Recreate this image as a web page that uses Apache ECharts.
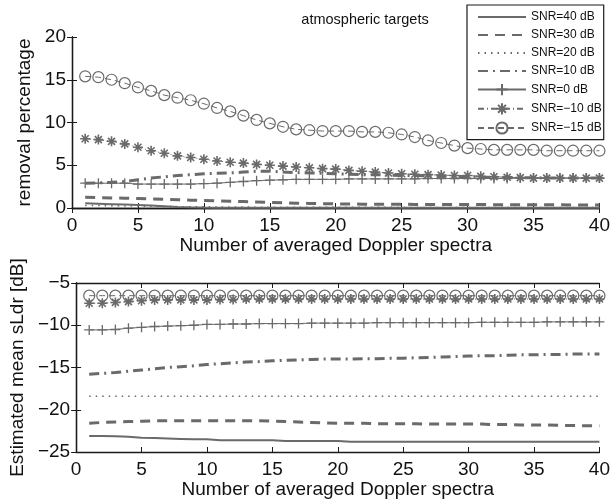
<!DOCTYPE html>
<html>
<head>
<meta charset="utf-8">
<script src="https://cdn.jsdelivr.net/npm/echarts@6/dist/echarts.min.js"></script>
<style>html,body{margin:0;padding:0;background:#fff}#c{width:613px;height:504px}</style>
</head>
<body>
<div id="c"></div>
<script>
var xs = [1,2,3,4,5,6,7,8,9,10,11,12,13,14,15,16,17,18,19,20,21,22,23,24,25,26,27,28,29,30,31,32,33,34,35,36,37,38,39,40];
var names = ['SNR=40 dB','SNR=30 dB','SNR=20 dB','SNR=10 dB','SNR=0 dB','SNR=\u221210 dB','SNR=\u221215 dB'];

// top panel: removal percentage
var top40 = [0.55,0.5,0.45,0.4,0.35,0.28,0.2,0.12,0.08,0.05,0.04,0.03,0.03,0.02,0.02,0.02,0.02,0.02,0.02,0.02,0.02,0.02,0.02,0.02,0.02,0.02,0.02,0.02,0.02,0.02,0.02,0.02,0.02,0.02,0.02,0.02,0.02,0.02,0.02,0.02];
var top30 = [1.25,1.22,1.18,1.14,1.1,1.06,1.02,0.97,0.92,0.87,0.83,0.79,0.75,0.7,0.65,0.61,0.57,0.54,0.51,0.48,0.46,0.45,0.44,0.43,0.43,0.42,0.42,0.41,0.41,0.4,0.4,0.39,0.39,0.38,0.38,0.37,0.37,0.36,0.36,0.35];
var top20 = [0.3,0.28,0.26,0.24,0.22,0.2,0.18,0.16,0.15,0.14,0.13,0.12,0.11,0.1,0.1,0.1,0.09,0.09,0.09,0.08,0.08,0.08,0.08,0.08,0.07,0.07,0.07,0.07,0.07,0.06,0.06,0.06,0.06,0.06,0.06,0.05,0.05,0.05,0.05,0.05];
var top10 = [2.9,2.95,3.0,3.1,3.3,3.5,3.65,3.8,3.9,4.0,4.05,4.1,4.2,4.3,4.3,4.2,4.15,4.1,4.05,4.0,3.95,3.9,3.9,3.85,3.8,3.8,3.75,3.7,3.7,3.65,3.6,3.6,3.6,3.55,3.55,3.5,3.5,3.5,3.5,3.5];
var top0 = [2.9,2.9,2.9,2.9,2.8,2.8,2.8,2.8,2.8,2.85,2.9,3.0,3.1,3.2,3.25,3.3,3.35,3.35,3.35,3.35,3.4,3.4,3.4,3.4,3.4,3.4,3.45,3.45,3.45,3.45,3.45,3.45,3.45,3.5,3.5,3.5,3.5,3.5,3.5,3.5];
var topM10 = [8.1,8.0,7.8,7.5,7.1,6.7,6.4,6.1,5.9,5.7,5.5,5.35,5.25,5.1,5.0,4.9,4.8,4.7,4.6,4.55,4.4,4.3,4.2,4.1,4.0,3.95,3.9,3.85,3.8,3.8,3.7,3.65,3.6,3.55,3.5,3.5,3.5,3.5,3.5,3.5];
var topM15 = [15.4,15.3,15.0,14.6,14.1,13.7,13.2,12.9,12.6,12.2,11.7,11.3,10.8,10.3,9.9,9.5,9.2,9.1,9.0,9.0,9.0,8.9,8.9,8.8,8.6,8.3,7.9,7.6,7.3,7.0,6.9,6.8,6.8,6.8,6.8,6.7,6.7,6.7,6.7,6.7];

// bottom panel: estimated mean sLdr [dB]
var bot40 = [-23.1,-23.1,-23.15,-23.2,-23.3,-23.35,-23.4,-23.45,-23.5,-23.5,-23.6,-23.6,-23.6,-23.6,-23.6,-23.7,-23.7,-23.7,-23.7,-23.7,-23.8,-23.8,-23.8,-23.8,-23.8,-23.8,-23.8,-23.8,-23.8,-23.8,-23.8,-23.8,-23.8,-23.8,-23.8,-23.8,-23.8,-23.8,-23.8,-23.8];
var bot30 = [-21.6,-21.5,-21.45,-21.4,-21.35,-21.3,-21.3,-21.3,-21.3,-21.3,-21.3,-21.3,-21.3,-21.3,-21.35,-21.4,-21.45,-21.5,-21.55,-21.6,-21.6,-21.6,-21.65,-21.65,-21.65,-21.65,-21.7,-21.7,-21.7,-21.7,-21.7,-21.75,-21.75,-21.8,-21.8,-21.8,-21.85,-21.85,-21.9,-21.9];
var bot20 = [-18.4,-18.4,-18.4,-18.4,-18.4,-18.4,-18.4,-18.4,-18.4,-18.4,-18.4,-18.4,-18.4,-18.4,-18.4,-18.4,-18.4,-18.4,-18.4,-18.4,-18.4,-18.4,-18.4,-18.4,-18.4,-18.4,-18.4,-18.4,-18.4,-18.4,-18.4,-18.4,-18.4,-18.4,-18.4,-18.4,-18.4,-18.4,-18.4,-18.4];
var bot10 = [-15.8,-15.7,-15.6,-15.45,-15.3,-15.15,-15.0,-14.9,-14.8,-14.65,-14.55,-14.45,-14.35,-14.3,-14.2,-14.15,-14.1,-14.05,-14.0,-14.0,-14.0,-13.95,-13.95,-13.9,-13.9,-13.85,-13.8,-13.75,-13.7,-13.65,-13.6,-13.6,-13.55,-13.5,-13.5,-13.45,-13.45,-13.4,-13.4,-13.4];
var bot0 = [-10.55,-10.55,-10.5,-10.35,-10.25,-10.15,-10.1,-10.05,-10.0,-9.9,-9.9,-9.85,-9.85,-9.8,-9.8,-9.8,-9.8,-9.75,-9.75,-9.75,-9.75,-9.75,-9.7,-9.7,-9.7,-9.7,-9.7,-9.7,-9.7,-9.7,-9.65,-9.65,-9.65,-9.65,-9.65,-9.6,-9.6,-9.6,-9.6,-9.6];
var botM10 = [-7.4,-7.4,-7.3,-7.2,-7.1,-7.0,-7.0,-7.0,-7.0,-7.0,-6.95,-6.95,-6.9,-6.9,-6.9,-6.9,-6.9,-6.9,-6.9,-6.9,-6.9,-6.9,-6.9,-6.9,-6.9,-6.9,-6.9,-6.9,-6.9,-6.9,-6.9,-6.9,-6.9,-6.9,-6.9,-6.9,-6.9,-6.9,-6.9,-6.9];
var botM15 = [-6.5,-6.5,-6.5,-6.5,-6.5,-6.5,-6.5,-6.5,-6.5,-6.5,-6.5,-6.5,-6.5,-6.5,-6.5,-6.5,-6.5,-6.5,-6.5,-6.5,-6.5,-6.5,-6.5,-6.5,-6.5,-6.5,-6.5,-6.5,-6.5,-6.5,-6.5,-6.5,-6.5,-6.5,-6.5,-6.5,-6.5,-6.5,-6.5,-6.5];

var xTicks = [0,5,10,15,20,25,30,35,40];
var topYTicks = [0,5,10,15,20];
var botYTicks = [-25,-20,-15,-10,-5];

var GRAY = '#6a6a6a';
var AX = '#1a1a1a';
var FONT = 'Liberation Sans';
var FS = 19;
var PLUS = 'path://M0,-5L0,5M-5,0L5,0';
var STAR = 'path://M0,-5L0,5M-5,0L5,0M-3.5,-3.5L3.5,3.5M-3.5,3.5L3.5,-3.5';

var styles = [
  {lineStyle:{width:2,type:'solid'}, symbol:'none', bw: 0},
  {lineStyle:{width:3,type:[10,7]}, symbol:'none', bw: 0},
  {lineStyle:{width:1.5,type:[1.5,5]}, symbol:'none', bw: 0},
  {lineStyle:{width:3,type:[10,5,2,5]}, symbol:'none', bw: 0},
  {lineStyle:{width:1,type:'solid'}, symbol:PLUS, symbolSize:10, bw: 1.3},
  {lineStyle:{width:1,type:[6,3,1,3]}, symbol:STAR, symbolSize:10, bw: 1.6},
  {lineStyle:{width:1,type:[6,4]}, symbol:'circle', symbolSize:11, bw: 1.2}
];
var topData = [top40, top30, top20, top10, top0, topM10, topM15];
var botData = [bot40, bot30, bot20, bot10, bot0, botM10, botM15];

function mkSeries(vals, i, axisIdx) {
  var st = styles[i];
  return {
    name: names[i], type: 'line',
    xAxisIndex: axisIdx, yAxisIndex: axisIdx,
    data: xs.map(function (x, k) { return [x, vals[k]]; }),
    symbol: st.symbol, symbolSize: st.symbolSize || 0,
    showSymbol: st.symbol !== 'none',
    lineStyle: {color: GRAY, width: st.lineStyle.width, type: st.lineStyle.type},
    itemStyle: {color: 'rgba(0,0,0,0)', borderColor: st.bw ? GRAY : 'rgba(0,0,0,0)', borderWidth: st.bw},
    emphasis: {disabled: true}, animation: false, clip: false, z: 3
  };
}

function fmtMinus(v) { return String(v).replace('-', '\u2212'); }

function xAxisPair(grid) {
  return [
    {gridIndex: grid, type: 'value', min: 0, max: 40, interval: 5, position: 'bottom',
     axisLine: {lineStyle: {color: AX, width: 1.3}}, axisTick: {inside: true, length: 5, lineStyle: {color: AX}},
     axisLabel: {color: '#111', fontSize: FS, fontFamily: FONT, margin: 8},
     splitLine: {show: false},
     name: 'Number of averaged Doppler spectra', nameLocation: 'middle', nameGap: 25,
     nameTextStyle: {color: '#111', fontSize: FS, fontFamily: FONT}},
    {gridIndex: grid, type: 'value', min: 0, max: 40, interval: 5, position: 'top',
     axisLine: {lineStyle: {color: AX, width: 1.3}}, axisTick: {inside: true, length: 5, lineStyle: {color: AX}},
     axisLabel: {show: false}, splitLine: {show: false}}
  ];
}
function yAxisPair(grid, min, max, name, gap) {
  return [
    {gridIndex: grid, type: 'value', min: min, max: max, interval: 5, position: 'left',
     axisLine: {show: true, lineStyle: {color: AX, width: 1.3}}, axisTick: {show: true, inside: true, length: 5, lineStyle: {color: AX}},
     axisLabel: {color: '#111', fontSize: FS, fontFamily: FONT, margin: 6, formatter: fmtMinus},
     splitLine: {show: false},
     name: name, nameLocation: 'middle', nameGap: gap,
     nameTextStyle: {color: '#111', fontSize: FS, fontFamily: FONT}},
    {gridIndex: grid, type: 'value', min: min, max: max, interval: 5, position: 'right',
     axisLine: {show: true, lineStyle: {color: AX, width: 1.3}}, axisTick: {show: true, inside: true, length: 5, lineStyle: {color: AX}},
     axisLabel: {show: false}, splitLine: {show: false}}
  ];
}

var series = [];
for (var i = 0; i < 7; i++) series.push(mkSeries(topData[i], i, 0));
for (var j = 0; j < 7; j++) series.push(mkSeries(botData[j], j, 2));

var xA = xAxisPair(0).concat(xAxisPair(1));
var yA = yAxisPair(0, 0, 20, 'removal percentage', 37).concat(yAxisPair(1, -25, -5, 'Estimated mean sLdr [dB]', 44));

var chart = echarts.init(document.getElementById('c'), null, {renderer: 'canvas'});
chart.setOption({
  animation: false,
  backgroundColor: '#fff',
  title: {text: 'atmospheric targets', left: 360, top: 7, textAlign: 'center',
    textStyle: {fontSize: 14.5, fontWeight: 'normal', color: '#111', fontFamily: FONT}},
  grid: [
    {left: 72, top: 37, width: 531, height: 171},
    {left: 72, top: 283, width: 531, height: 169}
  ],
  xAxis: xA,
  yAxis: yA,
  legend: {
    data: names, left: 467, top: 5, orient: 'vertical',
    backgroundColor: '#fff', borderColor: AX, borderWidth: 1.2,
    padding: [6, 2, 5, 10], itemWidth: 48, itemHeight: 14, itemGap: 6,
    textStyle: {fontSize: 12, color: '#111', fontFamily: FONT},
    selectedMode: false, z: 10
  },
  series: series
});
</script>
</body>
</html>
